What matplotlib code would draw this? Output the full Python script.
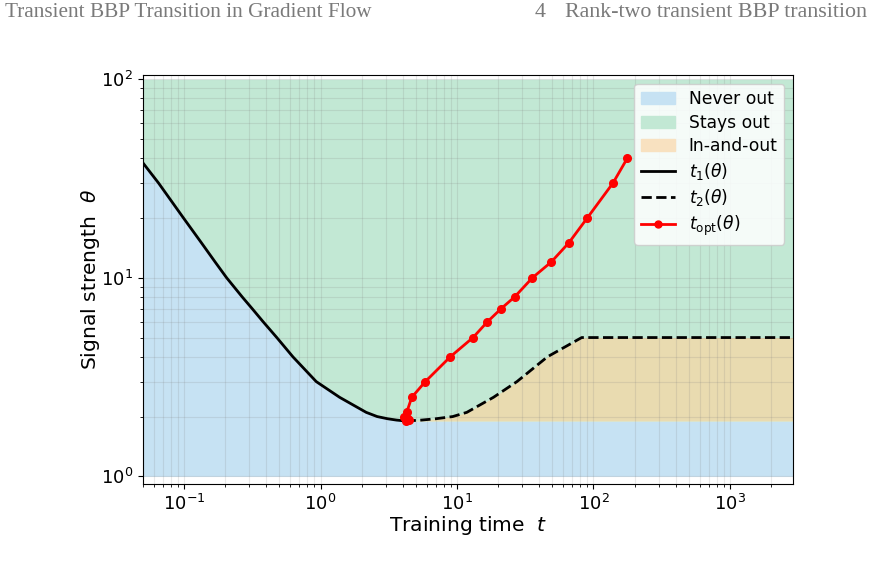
import matplotlib.pyplot as plt
import numpy as np
from matplotlib.lines import Line2D
from matplotlib.patches import Patch

# signal strengths shared by the curves
theta = [40, 30, 20, 15, 12, 10, 8, 7, 6, 5, 4, 3, 2.5, 2.1, 2.0, 1.95, 1.92, 1.9]
t1 = [0.047, 0.065, 0.099, 0.134, 0.169, 0.205, 0.267, 0.315, 0.38, 0.478, 0.627,
      0.93, 1.38, 2.16, 2.6, 3.1, 3.6, 4.2]
t_opt = [177, 139, 90, 66, 49, 35.7, 26.4, 21.1, 16.7, 13.1, 8.93, 5.86, 4.66,
         4.28, 4.1, 4.35, 4.45, 4.2]

# t2 only exists below theta = 5
theta2 = [1.9, 1.92, 1.95, 2.0, 2.1, 2.5, 3, 4, 5]
t2 = [4.2, 5.5, 7.0, 9.3, 11.8, 18.5, 27.5, 46, 82]

theta_c = 1.9
T_MIN, T_MAX = 0.05, 2900
TH_LO, TH_HI = 1.0, 100.0

C_NEVER = "#c6e2f3"
C_STAYS = "#c2e8d4"
C_INOUT = "#e9dbb0"
C_INOUT_LEG = "#f8e1c0"

fig = plt.figure(figsize=(8.73, 5.67), dpi=100)
ax = fig.add_axes([0.1638, 0.1464, 0.7446, 0.7213])

# boundary of the never-out region: t1 curve, then flat at theta_c
bx = np.r_[t1, T_MAX]
by = np.r_[theta, theta_c]
ax.fill_between(bx, TH_LO, by, color=C_NEVER, lw=0)
ax.fill_between(bx, by, TH_HI, color=C_STAYS, lw=0)

ox = np.r_[t2, T_MAX]
oy = np.r_[theta2, theta2[-1]]
ax.fill_between(ox, theta_c, oy, color=C_INOUT, lw=0)

ax.plot(t1, theta, color="black", lw=2)
ax.plot(ox, oy, color="black", lw=2, ls="--")
ax.plot(t_opt, theta, color="red", lw=2, marker="o", ms=5.5)

ax.set_xscale("log")
ax.set_yscale("log")
ax.set_xlim(T_MIN, T_MAX)
ax.set_ylim(0.915, 105)
ax.grid(True, which="both", color="gray", alpha=0.18, lw=0.8)
ax.tick_params(labelsize=13)
ax.set_xlabel("Training time  $t$", fontsize=14.6, labelpad=0)
ax.set_ylabel(r"Signal strength  $\theta$", fontsize=14.6, labelpad=-1)

handles = [
    Patch(color=C_NEVER, label="Never out"),
    Patch(color=C_STAYS, label="Stays out"),
    Patch(color=C_INOUT_LEG, label="In-and-out"),
    Line2D([], [], color="black", lw=2, label=r"$t_1(\theta)$"),
    Line2D([], [], color="black", lw=2, ls="--", label=r"$t_2(\theta)$"),
    Line2D([], [], color="red", lw=2, marker="o", ms=5, label=r"$t_{\rm opt}(\theta)$"),
]
ax.legend(handles=handles, loc="upper right", fontsize=12.3, labelspacing=0.32,
          framealpha=0.85)

# page header
hdr = dict(family="Liberation Serif", color="#7a7a7a", va="center")
fig.text(0.006, 0.978, "Transient BBP Transition in Gradient Flow", fontsize=15.3, **hdr)
fig.text(0.612, 0.978, "4", fontsize=15.8, **hdr)
fig.text(0.993, 0.978, "Rank-two transient BBP transition", ha="right", fontsize=15.8, **hdr)

fig.savefig("out.png", dpi=100)
